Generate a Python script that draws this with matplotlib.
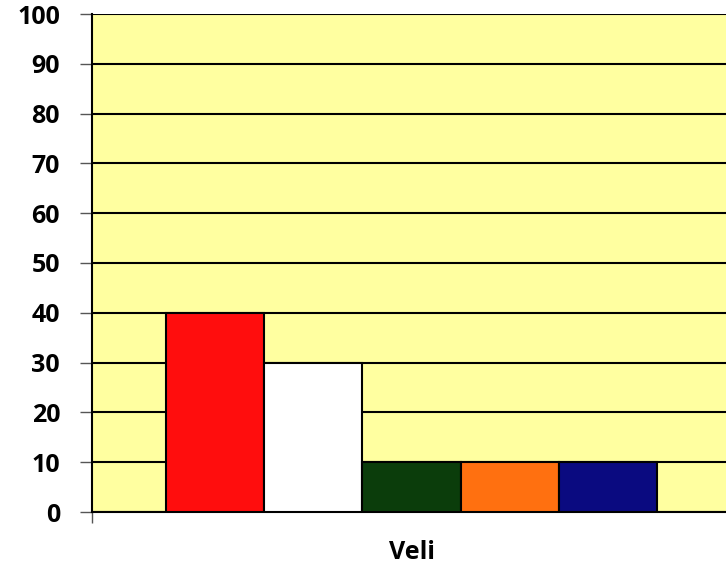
import numpy as np
from matplotlib import pyplot as plt

# single category chart, five series
category = 'Veli'
values = [40, 30, 10, 10, 10]
colors = ['#FF0D0D', '#FFFFFF', '#0B3D0B', '#FF7010', '#0A0A80']
yticks = np.arange(0, 101, 10)

plt.rcParams['font.family'] = ['Open Sans', 'DejaVu Sans']
plt.rcParams['font.weight'] = 'bold'

fig = plt.figure(figsize=(7.26, 5.69), dpi=100)
ax = fig.add_axes([92/726, 57/569, 639/726, 498/569])
ax.set_facecolor('#FFFFA0')

n = len(values)
x = np.arange(n) - (n - 1) / 2
ax.bar(x, values, width=1.0, color=colors, edgecolor='black', linewidth=1.5, zorder=3)

ax.set_xlim(-n/2 - 0.75, n/2 + 0.75)
ax.set_ylim(0, 100)
ax.set_yticks(yticks)
ax.set_yticklabels([str(v) for v in yticks], fontsize=18, fontweight='bold')
ax.yaxis.grid(True, color='black', linewidth=1.5, zorder=1)
ax.set_axisbelow(True)

ax.set_xticks([0])
ax.set_xticklabels([category], fontsize=18, fontweight='bold')
ax.tick_params(axis='x', length=0, pad=20)
ax.set_xticks([-n/2 - 0.75], minor=True)
ax.tick_params(axis='x', which='minor', length=8, width=1, color='#555555')
ax.tick_params(axis='y', length=9, width=1, color='#555555', pad=14)

for s in ['left', 'bottom']:
    ax.spines[s].set_color('black')
    ax.spines[s].set_linewidth(1.5)
ax.spines['right'].set_visible(False)
ax.spines['top'].set_visible(False)

plt.savefig('out.png', dpi=100)
